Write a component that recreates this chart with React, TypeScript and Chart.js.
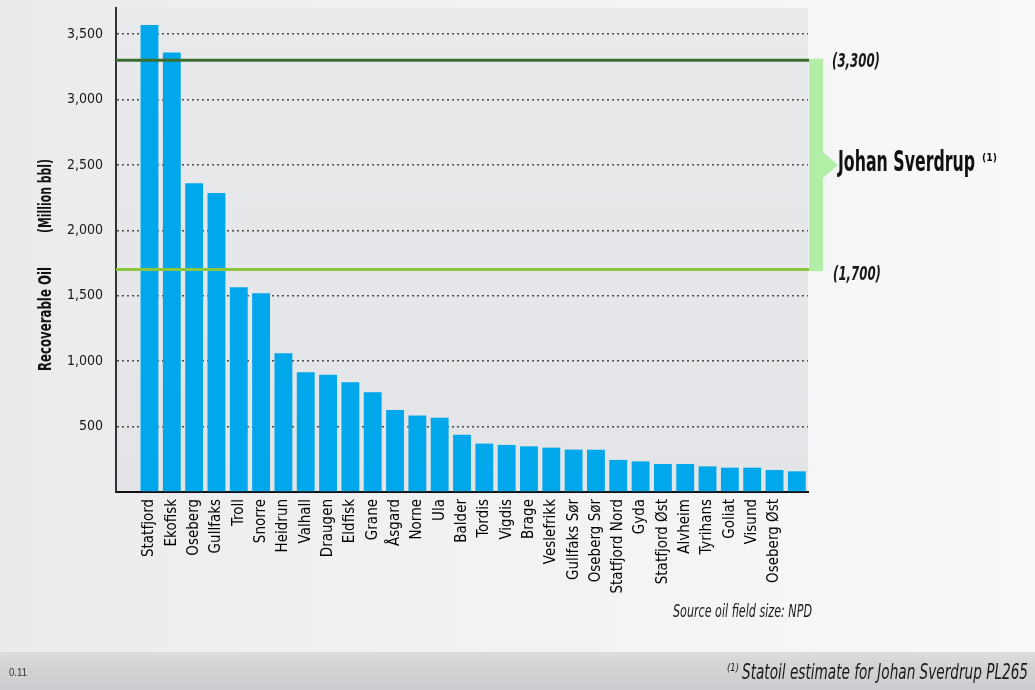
import React, { useEffect, useRef } from "react";
import { Chart, registerables } from "chart.js";

Chart.register(...registerables);

// ---- data ----
const FIELDS: string[] = [
  "",
  "Statfjord", "Ekofisk", "Oseberg", "Gullfaks", "Troll", "Snorre", "Heidrun", "Valhall",
  "Draugen", "Eldfisk", "Grane", "Åsgard", "Norne", "Ula", "Balder", "Tordis", "Vigdis",
  "Brage", "Veslefrikk", "Gullfaks Sør", "Oseberg Sør", "Statfjord Nord", "Gyda",
  "Statfjord Øst", "Alvheim", "Tyrihans", "Goliat", "Visund", "Oseberg Øst",
  "",
];
const RECOVERABLE_OIL: (number | null)[] = [
  null,
  3570, 3360, 2360, 2285, 1565, 1520, 1060, 915,
  897, 839, 762, 627, 584, 568, 437, 370, 360,
  349, 339, 324, 323, 245, 234,
  214, 214, 196, 186, 186, 168,
  158,
];
const Y_TICKS: number[] = [0, 500, 1000, 1500, 2000, 2500, 3000, 3500];
const Y_MIN = 0;
const Y_MAX = 3700;
const RANGE_HIGH = 3300;
const RANGE_LOW = 1700;
const RANGE_HIGH_LABEL = "(3,300)";
const RANGE_LOW_LABEL = "(1,700)";
const RANGE_NAME = "Johan Sverdrup";
const Y_TITLE_A = "Recoverable Oil";
const Y_TITLE_B = "(Million bbl)";
const SOURCE_NOTE = "Source oil field size: NPD";
const FOOTNOTE = "Statoil estimate for Johan Sverdrup PL265";
const PAGE_NO = "0.11";

const NARROW = '"Liberation Sans Narrow", "DejaVu Sans Condensed", "Liberation Sans", sans-serif';

function drawFitted(
  ctx: CanvasRenderingContext2D,
  text: string,
  x: number,
  y: number,
  font: string,
  color: string,
  width: number | null,
  align: CanvasTextAlign = "left",
  baseline: CanvasTextBaseline = "middle",
  rotate = 0
) {
  ctx.save();
  ctx.font = font;
  const w = ctx.measureText(text).width;
  const sx = width ? width / w : 1;
  ctx.translate(x, y);
  if (rotate) ctx.rotate(rotate);
  ctx.scale(sx, 1);
  ctx.fillStyle = color;
  ctx.textAlign = align;
  ctx.textBaseline = baseline;
  ctx.fillText(text, 0, 0);
  ctx.restore();
}

const overlayPlugin = {
  id: "overlay",
  beforeDraw(chart: any) {
    const { ctx, chartArea: a } = chart;
    ctx.save();
    const g = ctx.createLinearGradient(0, a.top, 0, a.bottom);
    g.addColorStop(0, "#e9eaec");
    g.addColorStop(1, "#e3e4e7");
    ctx.fillStyle = g;
    ctx.fillRect(a.left, a.top, a.right - a.left, a.bottom - a.top);
    ctx.restore();
  },
  afterDatasetsDraw(chart: any) {
    const { ctx, chartArea: a, scales } = chart;
    const y = scales.y;
    const yHi = y.getPixelForValue(RANGE_HIGH);
    const yLo = y.getPixelForValue(RANGE_LOW);
    ctx.save();
    ctx.lineWidth = 3;
    ctx.strokeStyle = "#3c6e31";
    ctx.beginPath();
    ctx.moveTo(a.left, yHi);
    ctx.lineTo(a.right + 1, yHi);
    ctx.stroke();
    ctx.strokeStyle = "#8cc63f";
    ctx.beginPath();
    ctx.moveTo(a.left, yLo);
    ctx.lineTo(a.right + 1, yLo);
    ctx.stroke();
    ctx.restore();
  },
  afterDraw(chart: any) {
    const { ctx, chartArea: a, scales } = chart;
    const y = scales.y;
    const yHi = y.getPixelForValue(RANGE_HIGH);
    const yLo = y.getPixelForValue(RANGE_LOW);
    const yMid = (yHi + yLo) / 2;
    const bx = a.right + 1;
    ctx.save();
    ctx.fillStyle = "#b3eea7";
    ctx.fillRect(bx, yHi - 1.5, 14, yLo - yHi + 3);
    ctx.beginPath();
    ctx.moveTo(bx + 14, yMid - 13);
    ctx.lineTo(bx + 29, yMid);
    ctx.lineTo(bx + 14, yMid + 13);
    ctx.closePath();
    ctx.fill();
    ctx.restore();

    drawFitted(ctx, RANGE_HIGH_LABEL, 832, yHi + 2, `italic bold 19px ${NARROW}`, "#1a1a1a", 48);
    drawFitted(ctx, RANGE_LOW_LABEL, 833, yLo + 5, `italic bold 19px ${NARROW}`, "#1a1a1a", 48);
    drawFitted(ctx, RANGE_NAME, 838, yMid + 6, `bold 28px ${NARROW}`, "#111", 137, "left", "alphabetic");
    drawFitted(ctx, "(1)", 982, yMid - 7, `bold 11px ${NARROW}`, "#111", 15);

    // y-axis title
    drawFitted(ctx, Y_TITLE_A, 47, 319, `bold 17px ${NARROW}`, "#111", 104, "center", "middle", -Math.PI / 2);
    drawFitted(ctx, Y_TITLE_B, 47, 196, `bold 17px ${NARROW}`, "#111", 74, "center", "middle", -Math.PI / 2);

    // notes
    drawFitted(ctx, SOURCE_NOTE, 673, 612, `italic 18px ${NARROW}`, "#1a1a1a", 139);
    drawFitted(ctx, "(1)", 727, 668, `italic 10px ${NARROW}`, "#1a1a1a", 12);
    drawFitted(ctx, FOOTNOTE, 742, 674, `italic 21px ${NARROW}`, "#1a1a1a", 286);
    drawFitted(ctx, PAGE_NO, 9, 673, `10px "Liberation Sans", sans-serif`, "#333", 18);
  },
};

export default function App() {
  const ref = useRef<HTMLCanvasElement | null>(null);

  useEffect(() => {
    document.body.style.margin = "0";
    document.body.style.overflow = "hidden";
    const canvas = ref.current;
    if (!canvas) return;
    const chart = new Chart(canvas, {
      type: "bar",
      data: {
        labels: FIELDS,
        datasets: [
          {
            data: RECOVERABLE_OIL,
            backgroundColor: "#00a7eb",
            borderWidth: 0,
            barPercentage: 0.8,
            categoryPercentage: 1.0,
          },
        ],
      },
      options: {
        animation: false,
        responsive: false,
        devicePixelRatio: 1,
        layout: { padding: { left: 0, right: 227, top: 8, bottom: 0 } },
        plugins: { legend: { display: false }, tooltip: { enabled: false } },
        scales: {
          x: {
            type: "category",
            afterFit: (s: any) => {
              s.height = 198;
              s.paddingLeft = 0;
              s.paddingRight = 0;
            },
            grid: { display: false, drawTicks: false },
            border: { display: true, color: "#111", width: 2 },
            ticks: {
              autoSkip: false,
              maxRotation: 90,
              minRotation: 90,
              padding: 7,
              color: "#000",
              font: { family: NARROW, size: 15 },
            },
          },
          y: {
            min: Y_MIN,
            max: Y_MAX,
            afterBuildTicks: (s: any) => {
              s.ticks = Y_TICKS.map((v) => ({ value: v }));
            },
            afterFit: (s: any) => {
              s.width = 116;
              s.paddingTop = 0;
              s.paddingBottom = 0;
            },
            grid: {
              drawTicks: false,
              lineWidth: 1.5,
              color: (c: any) => (c.tick && c.tick.value === 0 ? "rgba(0,0,0,0)" : "#4a4a4a"),
            },
            border: { display: true, color: "#333", width: 2, dash: [2, 3] },
            ticks: {
              padding: 13,
              color: "#1a1a1a",
              font: { family: NARROW, size: 14 },
              callback: (v: any) => (Number(v) === 0 ? "" : Number(v).toLocaleString("en-US")),
            },
          },
        },
      },
      plugins: [overlayPlugin],
    } as any);
    return () => chart.destroy();
  }, []);

  return (
    <div
      style={{
        position: "relative",
        width: 1035,
        height: 690,
        overflow: "hidden",
        background: "linear-gradient(to right, #e9ebed 0%, #eff1f3 40%, #f5f6f7 80%, #f8f9fa 100%)",
      }}
    >
      <div
        style={{
          position: "absolute",
          left: 0,
          right: 0,
          top: 652,
          bottom: 0,
          background: "linear-gradient(to bottom, #dcdddf 0%, #d2d3d5 40%, #cbcccf 100%)",
        }}
      />
      <canvas
        ref={ref}
        width={1035}
        height={690}
        style={{ position: "absolute", left: 0, top: 0, width: 1035, height: 690 }}
      />
    </div>
  );
}
